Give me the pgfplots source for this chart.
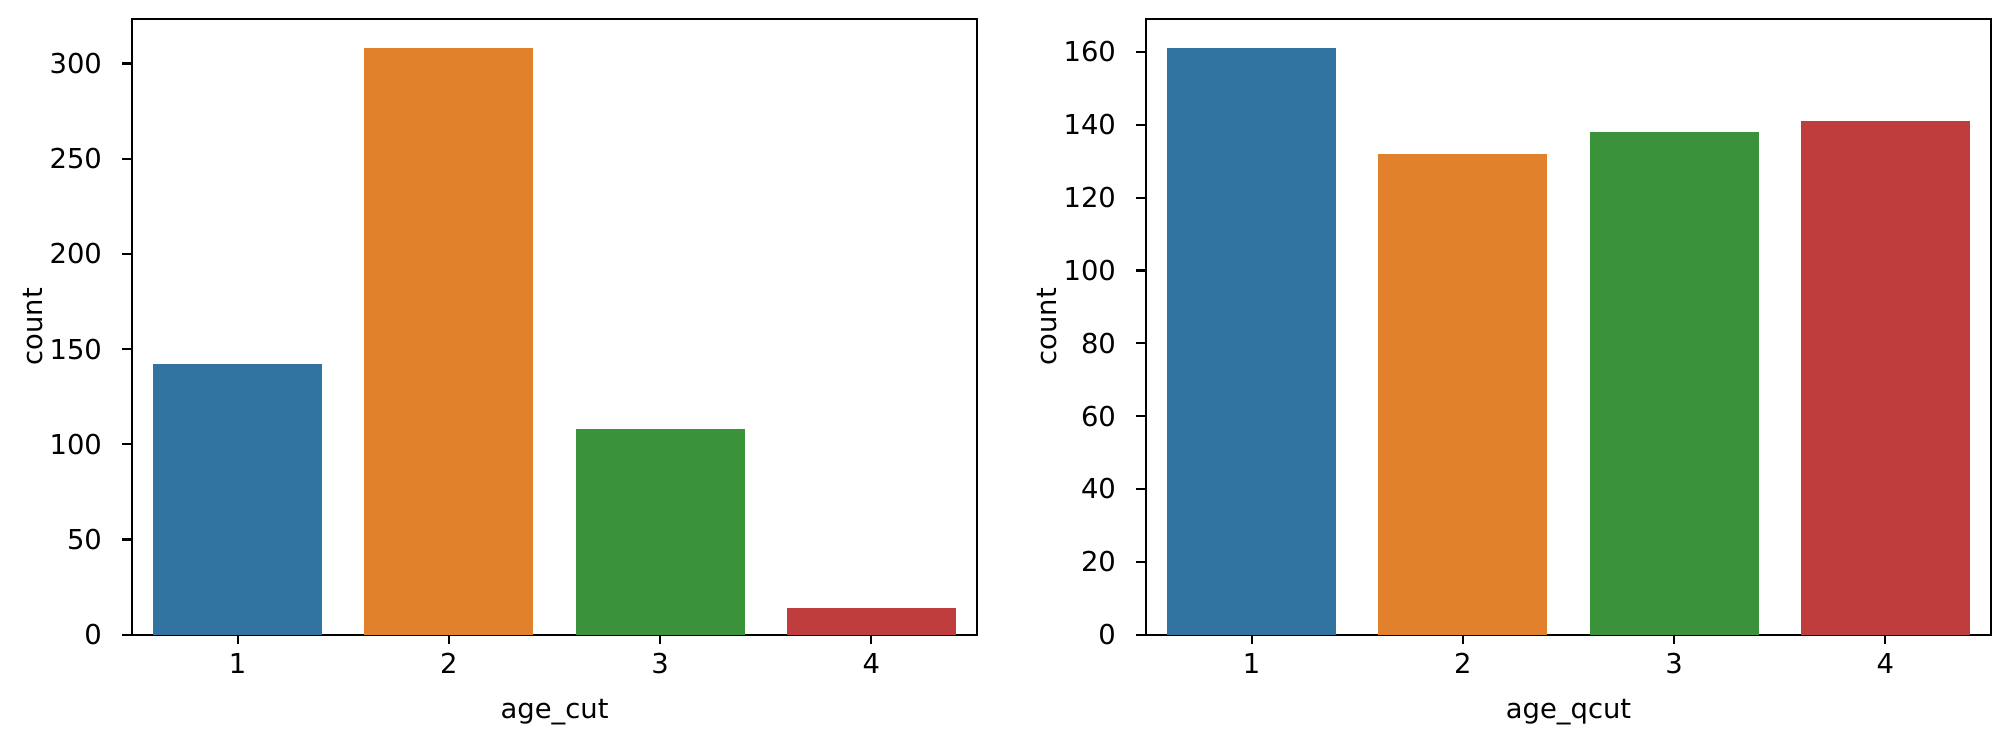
\documentclass[border=0pt]{standalone}
\usepackage{pgfplots}
\pgfplotsset{compat=1.18}
\usepackage{fontspec}
\setmainfont{DejaVu Sans}
\definecolor{c1}{HTML}{3274A1}
\definecolor{c2}{HTML}{E1812C}
\definecolor{c3}{HTML}{3A923A}
\definecolor{c4}{HTML}{C03D3E}
\pgfplotsset{
  mystyle/.style={
    scale only axis,
    width=308.4pt, height=224.7pt,
    anchor=south west,
    axis line style={line width=0.8pt},
    every tick/.style={black, line width=0.8pt},
    major tick length=3.5pt,
    tick align=outside,
    xtick pos=left, ytick pos=left,
    ybar, bar width=0.8,
    xmin=-0.5, xmax=3.5, ymin=0,
    xtick={0,1,2,3}, xticklabels={1,2,3,4},
    scaled ticks=false,
    /pgf/number format/assume math mode=true,
    xticklabel style={anchor=base, inner sep=0pt, yshift=-10.8pt},
    yticklabel style={anchor=east, inner sep=0pt, xshift=-7.3pt},
    ylabel=count,
    ylabel style={at={(axis description cs:-0.1065,0.5)}, anchor=base, rotate=0},
    xlabel style={at={(axis description cs:0.5,-0.1366)}, anchor=base},
  }
}
\begin{document}
\begin{tikzpicture}
\path[use as bounding box] (0,0) rectangle (734pt,270.8pt);
\begin{axis}[mystyle, at={(48.2pt,39.16pt)},
  ymax=323.4, ytick={0,50,100,150,200,250,300},
  xlabel={age\_cut}]
\addplot[fill=c1, draw=none, bar shift=0pt] coordinates {(0,142)};
\addplot[fill=c2, draw=none, bar shift=0pt] coordinates {(1,308)};
\addplot[fill=c3, draw=none, bar shift=0pt] coordinates {(2,108)};
\addplot[fill=c4, draw=none, bar shift=0pt] coordinates {(3,14)};
\end{axis}
\begin{axis}[mystyle, at={(418.3pt,39.16pt)},
  ymax=169.05, ytick={0,20,40,60,80,100,120,140,160},
  xlabel={age\_qcut}]
\addplot[fill=c1, draw=none, bar shift=0pt] coordinates {(0,161)};
\addplot[fill=c2, draw=none, bar shift=0pt] coordinates {(1,132)};
\addplot[fill=c3, draw=none, bar shift=0pt] coordinates {(2,138)};
\addplot[fill=c4, draw=none, bar shift=0pt] coordinates {(3,141)};
\end{axis}
\end{tikzpicture}
\end{document}
